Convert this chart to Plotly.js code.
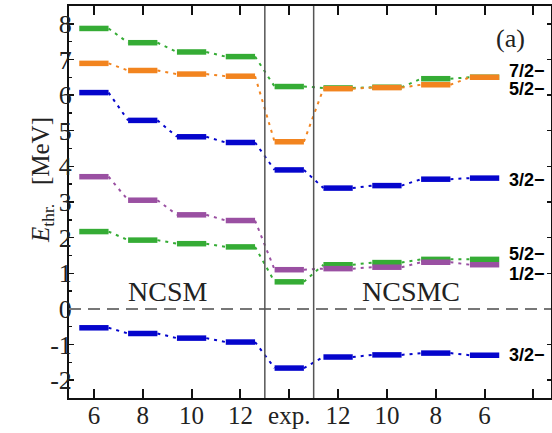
<!DOCTYPE html>
<html>
<head>
<meta charset="utf-8">
<script src="https://cdn.plot.ly/plotly-3.0.1.min.js"></script>
<style>
  html, body { margin: 0; padding: 0; background: #fff; }
  #chart { width: 552px; height: 433px; }
</style>
</head>
<body>
<div id="chart"></div>
<script>
// Model-space sizes (N_max) for NCSM, the experiment, then NCSMC in reverse order
const categories = ['6', '8', '10', '12', 'exp.', '12', '10', '8', '6'];

// Threshold energies in MeV, one entry per category
const upperGreen  = [7.87, 7.47, 7.21, 7.08, 6.24, 6.20, 6.22, 6.46, 6.50];
const upperOrange = [6.89, 6.69, 6.59, 6.53, 4.69, 6.18, 6.21, 6.29, 6.50];
const upperBlue   = [6.07, 5.29, 4.83, 4.67, 3.90, 3.39, 3.46, 3.64, 3.67];
const midPurple   = [3.71, 3.05, 2.64, 2.48, 1.10, 1.13, 1.17, 1.31, 1.24];
const lowerGreen  = [2.17, 1.93, 1.83, 1.74, 0.76, 1.24, 1.30, 1.39, 1.39];
const lowerBlue   = [-0.53, -0.69, -0.82, -0.93, -1.66, -1.35, -1.29, -1.24, -1.30];

// Spin-parity labels on the right and the heights they are written at
const stateLabels = ['7/2\u2212', '5/2\u2212', '3/2\u2212', '5/2\u2212', '1/2\u2212', '3/2\u2212'];
const stateLabelY = [6.67, 6.17, 3.63, 1.53, 0.99, -1.30];

const yTickVals = [-2, -1, 0, 1, 2, 3, 4, 5, 6, 7, 8];
const yTickText = ['-2', '-1', '0', '1', '2', '3', '4', '5', '6', '7', '8'];

const levels = [
  { values: upperGreen,  color: '#35ac35' },
  { values: upperOrange, color: '#f2841f' },
  { values: upperBlue,   color: '#0505cc' },
  { values: lowerGreen,  color: '#35ac35' },
  { values: midPurple,   color: '#9a50a2' },
  { values: lowerBlue,   color: '#0505cc' }
];

const halfWidth = 0.3;
const traces = [];

levels.forEach(function (lv) {
  const bx = [], by = [], cx = [], cy = [];
  lv.values.forEach(function (v, i) {
    bx.push(i - halfWidth, i + halfWidth, null);
    by.push(v, v, null);
    if (i < lv.values.length - 1) {
      cx.push(i + halfWidth, i + 1 - halfWidth, null);
      cy.push(v, lv.values[i + 1], null);
    }
  });
  // dotted connectors between neighbouring levels
  traces.push({
    x: cx, y: cy, type: 'scatter', mode: 'lines',
    line: { color: lv.color, width: 2, dash: '3px,5px' },
    hoverinfo: 'skip', showlegend: false
  });
  // the level bars themselves
  traces.push({
    x: bx, y: by, type: 'scatter', mode: 'lines',
    line: { color: lv.color, width: 5.5 },
    hoverinfo: 'skip', showlegend: false
  });
});

const expIndex = categories.indexOf('exp.');
const xTickVals = categories.map(function (_, i) { return i; }).concat([categories.length]);
const xTickText = categories.concat(['']);

const serif = '"Liberation Serif", "Times New Roman", serif';
const nb = '\u00a0';

const annotations = stateLabels.map(function (t, k) {
  return {
    text: '<b>' + t + '</b>', x: 1, xref: 'paper', xanchor: 'right', xshift: -4,
    y: stateLabelY[k], yref: 'y', yanchor: 'middle', showarrow: false,
    font: { family: '"Liberation Sans", Arial, sans-serif', size: 18, color: '#000' }
  };
});
annotations.push(
  { text: 'NCSM', x: (expIndex - 1) / 2, xref: 'x', y: 0.5, yref: 'y', showarrow: false,
    font: { family: serif, size: 28, color: '#222' } },
  { text: 'NCSMC', x: (expIndex + 1 + categories.length - 1) / 2, xref: 'x', y: 0.5, yref: 'y', showarrow: false,
    font: { family: serif, size: 28, color: '#222' } },
  { text: '(a)', x: 0.95, xref: 'paper', y: 0.96, yref: 'paper', showarrow: false,
    font: { family: serif, size: 26, color: '#222' } },
  // y-axis title
  { text: '<i>E</i><sub>thr.</sub>' + nb + nb + nb + '[MeV]', textangle: -90,
    x: 0, xref: 'paper', xshift: -44, y: 0.555, yref: 'paper', showarrow: false,
    font: { family: serif, size: 25, color: '#222' } }
);

const layout = {
  width: 552, height: 433,
  margin: { l: 69, r: 1, t: 6, b: 35 },
  paper_bgcolor: '#fff', plot_bgcolor: '#fff',
  showlegend: false,
  xaxis: {
    range: [-0.51, 9.36], tickmode: 'array', tickvals: xTickVals, ticktext: xTickText,
    ticks: 'inside', ticklen: 9, tickwidth: 2, tickcolor: '#111',
    showline: true, linewidth: 2, linecolor: '#111', mirror: 'ticks',
    showgrid: false, zeroline: false, ticklabelstandoff: -6,
    tickfont: { family: serif, size: 25, color: '#222' }
  },
  yaxis: {
    range: [-2.5, 8.5], tickmode: 'array', tickvals: yTickVals, ticktext: yTickText,
    ticks: 'inside', ticklen: 5, tickwidth: 1.5, tickcolor: '#111',
    minor: { tickmode: 'linear', tick0: -2.5, dtick: 0.5, ticks: 'inside', ticklen: 3, tickwidth: 1.5, tickcolor: '#111', showgrid: false },
    showline: true, linewidth: 2, linecolor: '#111', mirror: true,
    showgrid: false, zeroline: false, ticklabelstandoff: -10,
    tickfont: { family: serif, size: 26, color: '#222' }
  },
  yaxis2: {
    overlaying: 'y', side: 'right', range: [-2.5, 8.5],
    tickmode: 'array', tickvals: yTickVals, showticklabels: false,
    ticks: 'inside', ticklen: 4, tickwidth: 1.5, tickcolor: '#111',
    showline: false, showgrid: false, zeroline: false
  },
  shapes: [
    { type: 'line', xref: 'paper', x0: 0, x1: 1, yref: 'y', y0: 0, y1: 0,
      line: { color: '#777', width: 2, dash: '12px,7px' } },
    { type: 'line', xref: 'x', x0: expIndex - 0.5, x1: expIndex - 0.5, yref: 'paper', y0: 0, y1: 1,
      line: { color: '#555', width: 1.5 } },
    { type: 'line', xref: 'x', x0: expIndex + 0.5, x1: expIndex + 0.5, yref: 'paper', y0: 0, y1: 1,
      line: { color: '#555', width: 1.5 } }
  ],
  annotations: annotations
};

// invisible trace so the right-hand tick axis is drawn
traces.push({ x: [0], y: [0], yaxis: 'y2', type: 'scatter', mode: 'markers',
  marker: { opacity: 0 }, hoverinfo: 'skip', showlegend: false });

Plotly.newPlot('chart', traces, layout, { staticPlot: true, displayModeBar: false });
</script>
</body>
</html>
